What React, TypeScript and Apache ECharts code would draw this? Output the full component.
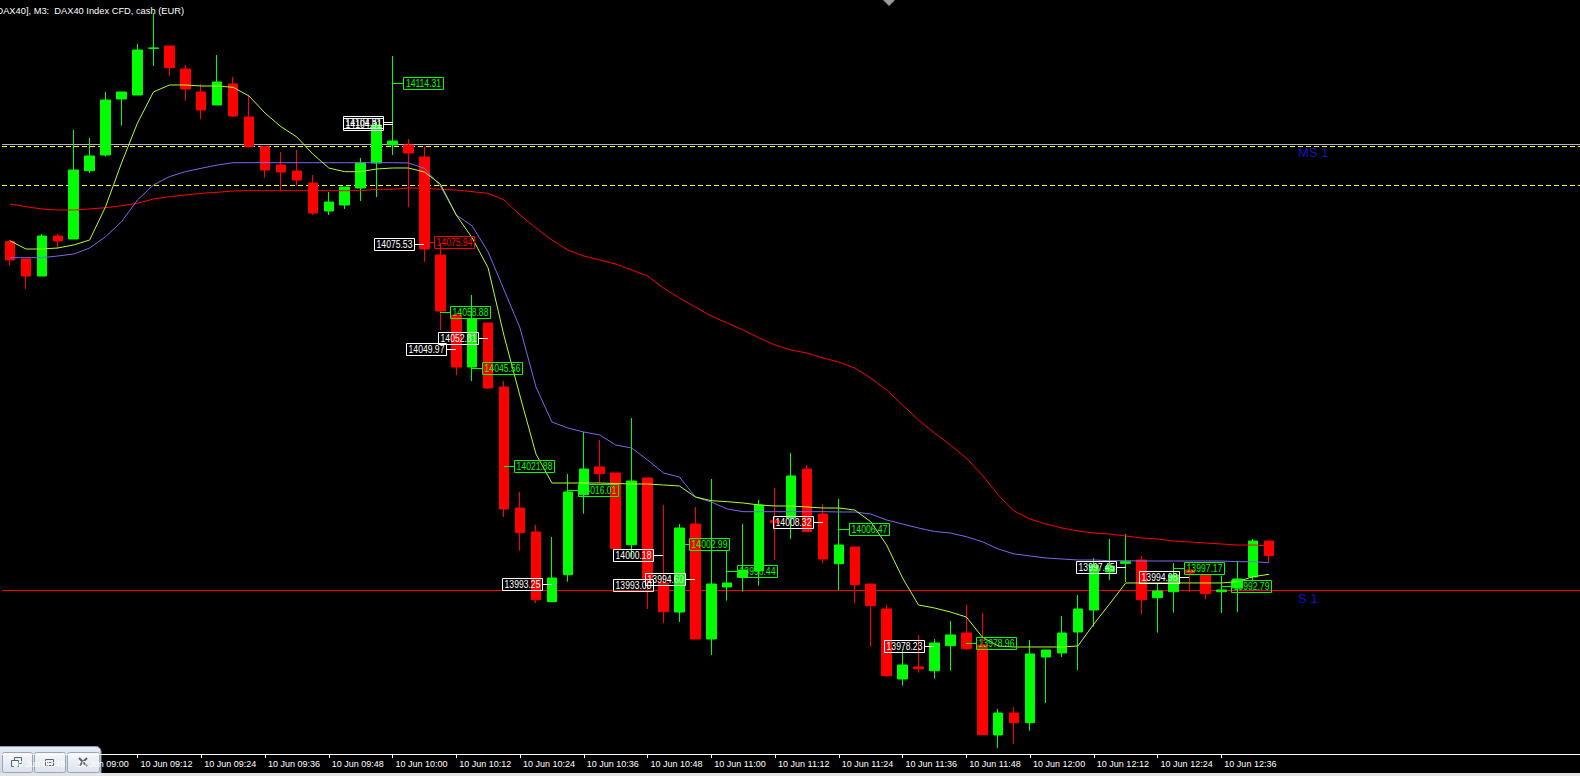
import React, { useEffect, useRef } from 'react';
import * as echarts from 'echarts';

// ---- data ----
const titleText = '[DAX40], M3:  DAX40 Index CFD, cash (EUR)';
const firstBar = { hour: 8, minute: 48 }; // first visible M3 bar
const slotCount = 99; // bars + empty right shift
const candleCount = 80;

const opens = [
  14075.98, 14071.80, 14067.69, 14077.35, 14076.63, 14093.13, 14096.92, 14110.45, 14111.41, 14122.69,
  14123.25, 14117.69, 14112.14, 14109.00, 14114.07, 14106.10, 14098.92, 14094.50, 14093.06, 14090.16,
  14083.39, 14084.84, 14088.95, 14094.99, 14099.34, 14099.34, 14096.44, 14072.76, 14058.27, 14045.71,
  14056.34, 14040.88, 14011.65, 14005.86, 13989.02, 13995.54, 14014.87, 14021.56, 14020.11, 14002.79,
  14018.90, 13993.54, 13986.53, 14007.79, 13980.01, 13992.57, 13994.99, 13996.51, 14008.59, 14009.24,
  14021.07, 14010.20, 13998.20, 14002.23, 13993.29, 13987.26, 13970.35, 13973.25, 13972.35, 13978.39,
  13981.46, 13978.56, 13956.82, 13962.13, 13959.79, 13975.66, 13976.63, 13981.70, 13987.01, 13996.19,
  13998.29, 13999.09, 13989.98, 13991.43, 13996.67, 13995.47, 13991.43, 13992.33, 13994.99, 14003.68,
];
const highs = [
  14076.39, 14071.80, 14077.84, 14077.84, 14102.96, 14101.03, 14112.14, 14112.14, 14123.73, 14131.22,
  14123.25, 14118.66, 14114.07, 14121.07, 14115.76, 14111.17, 14098.92, 14097.64, 14098.13, 14092.09,
  14087.98, 14089.19, 14096.20, 14104.89, 14120.83, 14100.79, 14099.09, 14075.66, 14058.75, 14063.10,
  14056.34, 14042.33, 14015.52, 14007.55, 14004.64, 14019.87, 14030.01, 14028.08, 14020.11, 14033.39,
  14018.90, 14012.38, 14007.79, 14011.90, 14018.66, 14001.51, 14007.79, 14013.59, 14016.48, 14024.94,
  14022.04, 14012.62, 14013.83, 14002.23, 13993.29, 13988.22, 13977.60, 13980.98, 13980.01, 13984.36,
  13988.22, 13986.29, 13963.10, 13963.58, 13979.77, 13977.35, 13985.56, 13990.64, 13999.57, 14004.16,
  14005.37, 14000.06, 13993.54, 13998.37, 13998.37, 13995.47, 13995.30, 13998.85, 14004.16, 14003.68,
];
const lows = [
  14070.18, 14064.55, 14067.69, 14074.21, 14076.63, 14092.57, 14096.51, 14104.00, 14111.41, 14118.42,
  14116.07, 14110.04, 14105.62, 14109.00, 14106.10, 14098.92, 14091.44, 14088.30, 14089.50, 14082.43,
  14082.43, 14083.88, 14085.81, 14086.77, 14096.92, 14084.36, 14071.07, 14054.65, 14043.78, 14042.33,
  14040.40, 14009.48, 14001.34, 13988.71, 13989.02, 13993.85, 14010.27, 14017.69, 14001.51, 13999.89,
  13987.26, 13983.87, 13984.12, 13980.01, 13976.14, 13989.26, 13991.43, 13992.89, 13999.09, 14004.16,
  14005.93, 13998.37, 13991.85, 13988.71, 13978.15, 13970.83, 13968.73, 13971.87, 13970.42, 13972.35,
  13977.35, 13956.89, 13953.68, 13954.65, 13957.86, 13964.55, 13975.66, 13972.52, 13982.98, 13994.26,
  13993.78, 13985.88, 13981.53, 13986.37, 13991.36, 13989.67, 13986.29, 13986.53, 13993.85, 13998.61,
];
const closes = [
  14071.56, 14067.69, 14077.35, 14076.15, 14093.30, 14096.68, 14110.20, 14112.14, 14122.28, 14122.77,
  14118.01, 14112.86, 14107.79, 14114.55, 14106.34, 14098.92, 14093.30, 14092.81, 14090.88, 14082.91,
  14085.57, 14089.19, 14094.99, 14104.17, 14100.30, 14097.40, 14074.21, 14059.24, 14045.71, 14057.31,
  14040.64, 14011.41, 14005.69, 13989.50, 13994.74, 14015.52, 14021.07, 14019.94, 14001.82, 14018.17,
  13994.26, 13986.60, 14006.82, 13980.01, 13993.29, 13993.54, 13996.67, 14012.38, 14008.10, 14019.38,
  14005.93, 13999.33, 14002.71, 13993.13, 13988.05, 13971.15, 13973.73, 13972.84, 13979.04, 13980.98,
  13977.67, 13956.89, 13962.13, 13959.79, 13976.39, 13977.35, 13981.46, 13987.26, 13997.88, 13997.64,
  13998.68, 13989.50, 13991.60, 13995.47, 13995.95, 13990.95, 13991.85, 13994.50, 14003.68, 14000.13,
];

const maFast = [
  14076.22, 14074.21, 14074.21, 14074.46, 14075.18, 14076.39, 14084.43, 14094.99, 14104.65, 14112.14,
  14113.83, 14113.83, 14113.59, 14113.59, 14113.27, 14111.17, 14107.06, 14103.76, 14101.27, 14097.16,
  14093.78, 14092.89, 14092.89, 14093.54, 14093.78, 14093.78, 14092.81, 14089.91, 14082.43, 14076.87,
  14069.63, 14053.20, 14038.71, 14024.70, 14017.69, 14017.69, 14017.69, 14017.69, 14017.57, 14017.45,
  14017.45, 14017.21, 14016.97, 14014.31, 14013.42, 14013.18, 14012.86, 14012.38, 14012.14, 14012.14,
  14011.90, 14011.65, 14011.65, 14011.17, 14008.34, 14002.71, 13994.74, 13988.22, 13987.50, 13986.53,
  13985.32, 13980.49, 13978.32, 13978.08, 13978.08, 13978.08, 13978.08, 13978.32, 13983.63, 13988.54,
  13993.54, 13993.54, 13993.54, 13993.54, 13993.54, 13993.54, 13993.54, 13993.85, 13995.06, 13995.64,
];
const maMid = [
  14072.11, 14072.11, 14072.11, 14072.52, 14073.00, 14074.46, 14077.19, 14080.81, 14086.05, 14089.67,
  14091.68, 14092.89, 14093.71, 14094.50, 14095.06, 14095.06, 14095.06, 14095.06, 14095.06, 14095.06,
  14095.06, 14095.06, 14095.06, 14095.06, 14095.06, 14094.99, 14093.71, 14089.43, 14082.43, 14079.77,
  14073.49, 14064.31, 14055.13, 14040.88, 14032.43, 14030.98, 14030.01, 14029.29, 14026.87, 14026.15,
  14023.26, 14020.11, 14019.14, 14014.31, 14013.10, 14011.41, 14010.76, 14010.76, 14010.76, 14010.76,
  14010.76, 14010.76, 14010.69, 14010.69, 14010.20, 14008.75, 14007.79, 14006.82, 14005.98, 14005.62,
  14004.72, 14003.52, 14001.75, 14000.55, 14000.06, 13999.58, 13999.33, 13999.09, 13999.09, 13998.92,
  13998.92, 13998.85, 13998.85, 13998.85, 13998.85, 13998.85, 13998.85, 13998.68, 13998.68, 13998.44,
];
const maSlow = [
  14085.08, 14084.43, 14083.88, 14083.63, 14083.63, 14083.88, 14084.19, 14084.67, 14085.25, 14086.29,
  14086.85, 14087.26, 14087.67, 14087.91, 14088.22, 14088.30, 14088.30, 14088.30, 14088.30, 14088.30,
  14088.30, 14088.30, 14088.30, 14088.63, 14088.63, 14088.95, 14088.88, 14088.63, 14088.47, 14088.06,
  14087.67, 14086.05, 14082.43, 14079.29, 14076.39, 14073.97, 14072.52, 14071.56, 14070.59, 14069.14,
  14067.69, 14064.79, 14062.37, 14060.19, 14058.02, 14056.34, 14054.65, 14052.72, 14051.03, 14049.82,
  14049.09, 14047.89, 14046.92, 14045.47, 14043.05, 14040.16, 14036.53, 14032.91, 14029.77, 14026.87,
  14023.73, 14019.62, 14014.79, 14010.93, 14009.00, 14007.79, 14006.82, 14006.10, 14005.62, 14005.37,
  14004.89, 14004.41, 14004.16, 14003.68, 14003.44, 14003.20, 14002.96, 14002.71, 14002.71, 14002.47,
];

// price labels: anchor bar, price, kind (w = white box left, g = green box right, r = red box right)
const labelBars = [24, 24, 24, 26, 26, 27, 30, 28, 29, 31, 35, 41, 34, 41, 43, 42, 45, 51, 52, 58, 60, 70, 74, 73, 76];
const labelPrices = [
  14114.31, 14104.81, 14104.31, 14075.53, 14075.94, 14058.88, 14052.81, 14049.97, 14045.56, 14021.88,
  14016.01, 14000.18, 13993.25, 13993.00, 13994.60, 14002.99, 13996.44, 14008.32, 14006.47, 13978.23,
  13978.96, 13997.45, 13994.98, 13997.17, 13992.79,
];
const labelKinds = ['g', 'w', 'w', 'w', 'r', 'g', 'w', 'w', 'g', 'g', 'g', 'w', 'w', 'w', 'w', 'g', 'g', 'w', 'g', 'w', 'g', 'w', 'w', 'g', 'g'];

// horizontal levels
const levelPrices = [14099.50, 14099.02, 14089.60, 13991.77];
const levelColors = ['#b4b4b4', '#ffff00', '#ffff00', '#ff0000'];
const levelStyles = ['solid', 'dashed', 'dashed', 'solid'];
const tagNames = ['MS 1', 'S 1'];
const tagPrices = [14099.50, 13991.77];
const tagBar = 80;

const yMin = 13952.23;
const yMax = 14134.36;

const pad = (n: number) => (n < 10 ? '0' + n : '' + n);
const barTimes: string[] = [];
for (let i = 0; i < slotCount; i++) {
  const m = firstBar.hour * 60 + firstBar.minute + 3 * i;
  barTimes.push('10 Jun ' + pad(Math.floor(m / 60)) + ':' + pad(m % 60));
}

const kindColor = (k: string) => (k === 'w' ? '#ffffff' : k === 'g' ? '#00ff00' : '#ff0000');
const showTick = (i: number) => i % 4 === 0 && i < candleCount;

export default function App() {
  const ref = useRef<HTMLDivElement>(null);
  useEffect(() => {
    document.body.style.margin = '0';
    document.body.style.background = '#000';
    if (!ref.current) return;
    const chart = echarts.init(ref.current, null, { renderer: 'svg' });
    const candles = opens.map((o, i) => [o, closes[i], lows[i], highs[i]]);
    const labelFont = '10px "Liberation Sans", Arial, sans-serif';
    const grad = (a: string, b: string) =>
      new echarts.graphic.LinearGradient(0, 0, 0, 1, [
        { offset: 0, color: a },
        { offset: 1, color: b },
      ]);
    const button = (x: number, w: number) => ({
      type: 'rect',
      shape: { x: x + 0.5, y: 752.5, width: w, height: 20, r: 2 },
      style: { fill: grad('#f6f8fb', '#dde3ec'), stroke: '#9aa6b8', lineWidth: 1 },
    });
    chart.setOption({
      animation: false,
      backgroundColor: '#000000',
      grid: { left: 2, right: -6, top: 0, bottom: 22, containLabel: false },
      xAxis: {
        type: 'category',
        data: barTimes,
        boundaryGap: true,
        axisLine: { show: true, lineStyle: { color: '#ffffff', width: 1 } },
        axisTick: { show: true, alignWithLabel: true, length: 4, interval: (i: number) => showTick(i), lineStyle: { color: '#ffffff' } },
        axisLabel: {
          show: true,
          interval: (i: number) => showTick(i),
          color: '#ffffff',
          fontSize: 9,
          fontFamily: '"Liberation Sans", Arial, sans-serif',
          align: 'left',
          margin: 5,
          padding: [0, 0, 0, 3],
        },
        splitLine: { show: false },
      },
      yAxis: { type: 'value', min: yMin, max: yMax, show: false, splitLine: { show: false } },
      series: [
        {
          type: 'candlestick',
          data: candles,
          barWidth: 10,
          z: 2,
          silent: true,
          itemStyle: { color: '#00ff00', color0: '#ff0000', borderColor: '#00ff00', borderColor0: '#ff0000', borderWidth: 1 },
          markLine: {
            silent: true,
            symbol: ['none', 'none'],
            label: { show: false },
            z: 1,
            data: levelPrices.map((p, k) => ({
              yAxis: p,
              lineStyle: { color: levelColors[k], width: 1, type: levelStyles[k] === 'dashed' ? [5, 3] : 'solid' },
            })),
          },
        },
        { type: 'line', data: maSlow, symbol: 'none', silent: true, z: 3, lineStyle: { color: '#ff0000', width: 1 } },
        { type: 'line', data: maMid, symbol: 'none', silent: true, z: 3, lineStyle: { color: '#7b68ee', width: 1 } },
        { type: 'line', data: maFast, symbol: 'none', silent: true, z: 3, lineStyle: { color: '#adff2f', width: 1 } },
        {
          type: 'scatter',
          data: tagPrices.map((p) => [tagBar, p]),
          symbolSize: 0,
          silent: true,
          z: 4,
          label: {
            show: true,
            position: [13, 2],
            formatter: (pp: any) => tagNames[pp.dataIndex],
            color: '#1818f0',
            fontSize: 13,
            fontFamily: '"Liberation Sans", Arial, sans-serif',
          },
        },
        {
          type: 'custom',
          data: labelBars.map((b, k) => [b, labelPrices[k]]),
          z: 10,
          silent: true,
          renderItem: (params: any, api: any) => {
            const k = params.dataIndex;
            const pt = api.coord([api.value(0), api.value(1)]);
            const x = Math.round(pt[0]);
            const y = Math.round(pt[1]) + 0.5;
            const kind = labelKinds[k];
            const col = kindColor(kind);
            const left = kind === 'w';
            const bw = 40;
            const bh = 12;
            const bx = left ? x - 10 - bw : x + 10;
            return {
              type: 'group',
              children: [
                {
                  type: 'line',
                  shape: { x1: left ? x - 10 : x, y1: y, x2: left ? x : x + 10, y2: y },
                  style: { stroke: col, lineWidth: 1 },
                },
                {
                  type: 'rect',
                  shape: { x: bx + 0.5, y: y - 6, width: bw, height: bh },
                  style: { fill: 'none', stroke: col, lineWidth: 1 },
                },
                {
                  type: 'text',
                  x: bx + bw / 2 + 0.5,
                  y: y + 0.5,
                  scaleX: 0.86,
                  style: {
                    text: labelPrices[k].toFixed(2),
                    x: 0,
                    y: 0,
                    align: 'center',
                    verticalAlign: 'middle',
                    fill: col,
                    font: labelFont,
                  },
                },
              ],
            };
          },
        },
      ],
      graphic: [
        {
          type: 'text',
          x: 184,
          y: 11,
          z: 20,
          style: { text: titleText, align: 'right', verticalAlign: 'middle', fill: '#ffffff', font: '9.3px "Liberation Sans", Arial, sans-serif' },
        },
        {
          type: 'polygon',
          z: 20,
          shape: { points: [[883, 0], [895, 0], [889, 6]] },
          style: { fill: '#9a9a9a' },
        },
        {
          type: 'rect',
          z: 20,
          shape: { x: 0, y: 773, width: 1580, height: 3 },
          style: { fill: '#e4e4e4' },
        },
        {
          type: 'group',
          z: 30,
          children: [
            {
              type: 'rect',
              shape: { x: -1, y: 746.5, width: 102, height: 31, r: [0, 5, 0, 0] },
              style: { fill: grad('#e6ebf3', '#c8d2e1'), stroke: '#8e9bb2', lineWidth: 1 },
            },
            button(2, 30),
            button(34, 31),
            button(67, 32),
            // restore icon
            { type: 'rect', shape: { x: 14.5, y: 757.5, width: 7, height: 6 }, style: { fill: 'none', stroke: '#55606e', lineWidth: 1 } },
            { type: 'rect', shape: { x: 11.5, y: 760.5, width: 7, height: 6 }, style: { fill: '#f0f2f6', stroke: '#55606e', lineWidth: 1 } },
            // maximize-like icon
            { type: 'rect', shape: { x: 45.5, y: 759.5, width: 8, height: 6 }, style: { fill: 'none', stroke: '#55606e', lineWidth: 1 } },
            { type: 'line', shape: { x1: 47, y1: 762.5, x2: 52, y2: 762.5 }, style: { stroke: '#55606e', lineWidth: 1 } },
            // close icon
            { type: 'line', shape: { x1: 79, y1: 758, x2: 87, y2: 766 }, style: { stroke: '#55606e', lineWidth: 2 } },
            { type: 'line', shape: { x1: 87, y1: 758, x2: 79, y2: 766 }, style: { stroke: '#55606e', lineWidth: 2 } },
          ],
        },
      ],
    });
    return () => chart.dispose();
  }, []);
  return <div ref={ref} style={{ position: 'absolute', left: 0, top: 0, width: 1580, height: 776 }} />;
}
